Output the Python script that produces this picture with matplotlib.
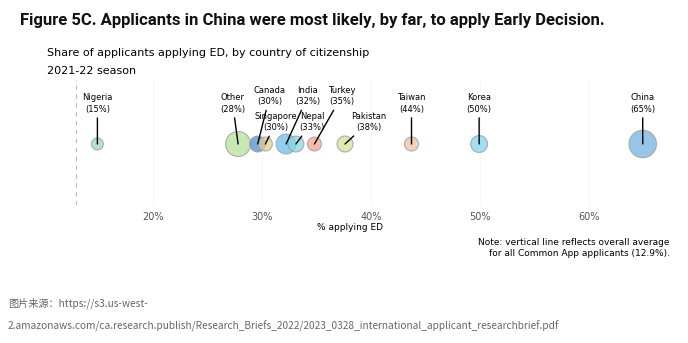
import matplotlib.pyplot as plt

countries = ['Nigeria', 'Other', 'Canada', 'Singapore', 'India', 'Nepal',
             'Turkey', 'Pakistan', 'Taiwan', 'Korea', 'China']
pct_ed = [14.9, 27.8, 29.6, 30.3, 32.2, 33.1, 34.8, 37.6, 43.7, 49.9, 64.9]
pct_label = [15, 28, 30, 30, 32, 33, 35, 38, 44, 50, 65]
# relative applicant volume (bubble area)
applicants = [36, 156, 64, 49, 100, 64, 49, 64, 49, 72, 190]
overall_avg = 12.9
xticks = [20, 30, 40, 50, 60]

colors = ['#9ed9b8', '#b5e09a', '#4f8fd0', '#e3cc93', '#6cc0ea', '#86d8e2',
          '#f6a394', '#d6e29a', '#f0c29e', '#85d3f1', '#75b2e0']
# label anchor (x in %, y in axis units)
label_pos = [(14.9, 101.5), (27.3, 101.5), (30.7, 109), (31.3, 83), (34.2, 109), (34.6, 83),
             (37.3, 109), (39.8, 83), (43.7, 101.5), (49.9, 101.5), (64.9, 101.5)]

fig = plt.figure(figsize=(6.88, 3.43), dpi=100)
ax = fig.add_axes([30 / 688, 1 - 205 / 343, 640 / 688, 125 / 343])

ax.set_xlim(8.72, 67.4)
ax.set_ylim(0, 125)
y0 = 61

ax.axvline(overall_avg, color='#bbbbbb', lw=0.8, ls=(0, (4, 4)), zorder=1)

ax.scatter(pct_ed, [y0] * len(pct_ed), s=[a * 2.07 for a in applicants],
           c=colors, alpha=0.75, edgecolors='#999999', linewidths=0.8, zorder=3)

for name, x, p, (tx, ty) in zip(countries, pct_ed, pct_label, label_pos):
    ax.annotate(f'{name}\n({p}%)', xy=(x, y0), xytext=(tx, ty),
                ha='center', va='center', fontsize=6, linespacing=1.35,
                arrowprops=dict(arrowstyle='-', color='black', lw=1.0,
                                shrinkA=1, shrinkB=0), zorder=4)

ax.set_xticks(xticks)
ax.set_xticklabels([f'{t}%' for t in xticks], fontsize=7, color='#555555')
ax.tick_params(length=0, pad=5)
ax.set_yticks([])
ax.set_xlabel('% applying ED', fontsize=6.5, labelpad=1)
ax.grid(axis='x', color='#f6f6f6', lw=0.8)
ax.set_axisbelow(True)
for s in ax.spines.values():
    s.set_visible(False)

fig.text(20 / 688, 1 - 21 / 343, 'Figure 5C. Applicants in China were most likely, by far, to apply Early Decision.',
         fontsize=12, fontweight='bold', family='Roboto', va='center', color='#111111')
fig.text(47 / 688, 1 - 53 / 343, 'Share of applicants applying ED, by country of citizenship',
         fontsize=8, va='center')
fig.text(47 / 688, 1 - 71 / 343, '2021-22 season', fontsize=8, va='center')
fig.text(670 / 688, 1 - 248 / 343,
         'Note: vertical line reflects overall average\nfor all Common App applicants (12.9%).',
         fontsize=6.5, ha='right', va='center', linespacing=1.3)

fig.text(8 / 688, 1 - 303 / 343, '图片来源：https://s3.us-west-', fontsize=7.3,
         family=['Noto Sans CJK SC', 'DejaVu Sans'], color='#666666', va='center')
fig.text(8 / 688, 1 - 326 / 343,
         '2.amazonaws.com/ca.research.publish/Research_Briefs_2022/2023_0328_international_applicant_researchbrief.pdf',
         fontsize=7.3, family=['Noto Sans CJK SC', 'DejaVu Sans'], color='#666666', va='center')

fig.savefig('out.png', dpi=100)
